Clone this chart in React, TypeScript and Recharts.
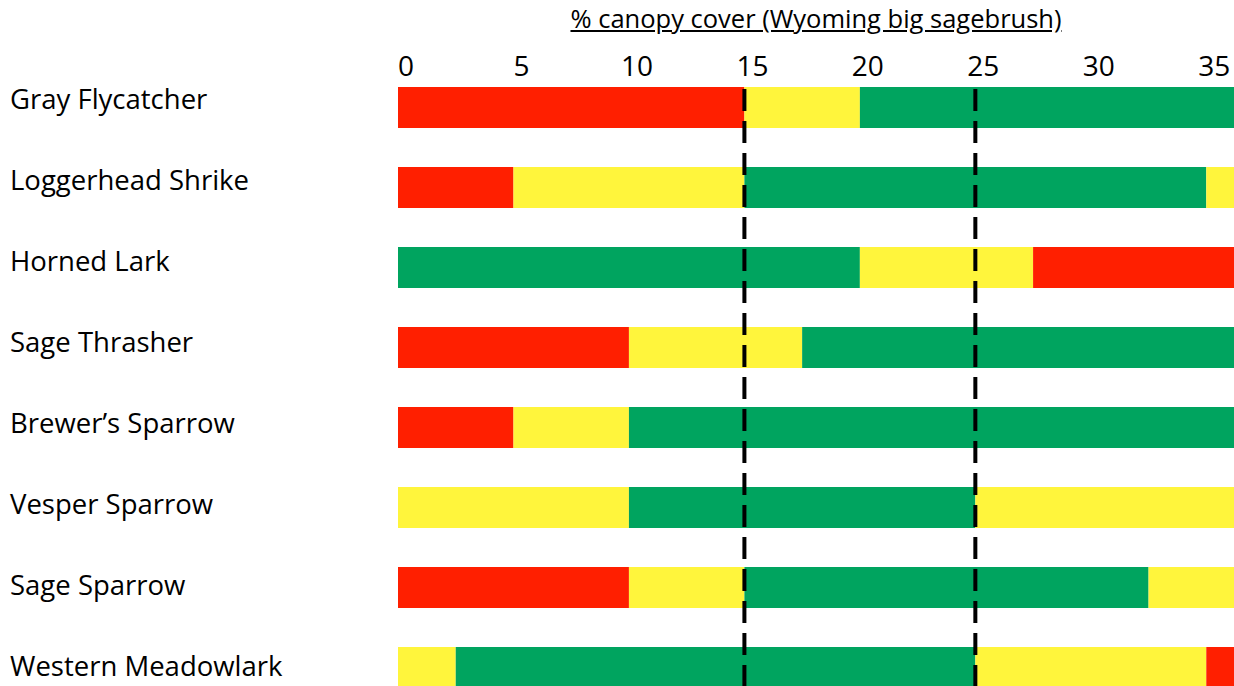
import { Bar, BarChart, Cell, ReferenceLine, XAxis, YAxis } from "recharts";

// species rows, top to bottom
const species = [
    "Gray Flycatcher",
    "Loggerhead Shrike",
    "Horned Lark",
    "Sage Thrasher",
    "Brewer\u2019s Sparrow",
    "Vesper Sparrow",
    "Sage Sparrow",
    "Western Meadowlark",
];

// widths of each consecutive segment (% canopy cover), last one runs off the right edge
const seg1 = [15, 5, 20, 10, 5, 10, 10, 2.5];
const seg2 = [5, 10, 7.5, 7.5, 5, 15, 5, 22.5];
const seg3 = [20, 20, 12.5, 22.5, 30, 15, 17.5, 10];
const seg4 = [0, 5, 0, 0, 0, 0, 7.5, 5];

// R = red, Y = yellow, G = green
const color1 = ["R", "R", "G", "R", "R", "Y", "R", "Y"];
const color2 = ["Y", "Y", "Y", "Y", "Y", "G", "Y", "G"];
const color3 = ["G", "G", "R", "G", "G", "Y", "G", "Y"];
const color4 = ["G", "Y", "G", "G", "G", "G", "Y", "R"];

const xTicks = [0, 5, 10, 15, 20, 25, 30, 35];
const thresholds = [15, 25];

const palette: Record<string, string> = {
    R: "#ff1f00",
    Y: "#fff53c",
    G: "#00a45f",
};

const data = species.map((name, i) => ({
    name,
    s1: seg1[i],
    s2: seg2[i],
    s3: seg3[i],
    s4: seg4[i],
}));

const segments = [
    { key: "s1", colors: color1 },
    { key: "s2", colors: color2 },
    { key: "s3", colors: color3 },
    { key: "s4", colors: color4 },
];

const FONT = "'Open Sans', sans-serif";

// labels drift down ~1px per row in the original
const SpeciesTick = ({ y, payload, index }: any) => (
    <text x={10} y={y} dy={2 + index} fontSize={27.5} fontFamily={FONT} fill="#000">
        {payload.value}
    </text>
);

const CoverTick = ({ x, y, payload }: any) => (
    <text x={x + 8} y={y} dy={17} textAnchor="middle" fontSize={28} fontFamily={FONT} fill="#000">
        {payload.value}
    </text>
);

const DashedLine = (props: any) => (
    <line
        x1={props.x1}
        x2={props.x2}
        y1={props.y1 + 20}
        y2={props.y2}
        stroke="#000"
        strokeWidth={4}
        strokeDasharray="22 10"
        strokeDashoffset={-2}
    />
);

export default function App() {
    return (
        <div style={{ position: "relative", width: 1234, height: 686, overflow: "hidden", background: "#fff" }}>
            <style>{"body{margin:0}"}</style>
            <div
                style={{
                    position: "absolute",
                    left: 516,
                    width: 600,
                    top: 1,
                    textAlign: "center",
                    fontFamily: FONT,
                    fontSize: 25.5,
                    textDecoration: "underline",
                    whiteSpace: "nowrap",
                }}
            >
                % canopy cover (Wyoming big sagebrush)
            </div>
            <BarChart
                width={1234}
                height={720}
                data={data}
                layout="vertical"
                margin={{ top: 0, right: 0, bottom: 13, left: 0 }}
            >
                <XAxis
                    type="number"
                    orientation="top"
                    domain={[0, 36.2]}
                    ticks={xTicks}
                    allowDataOverflow
                    height={67}
                    axisLine={false}
                    tickLine={false}
                    tick={<CoverTick />}
                />
                <YAxis
                    type="category"
                    dataKey="name"
                    width={398}
                    axisLine={false}
                    tickLine={false}
                    tick={<SpeciesTick />}
                />
                {segments.map((s) => (
                    <Bar key={s.key} dataKey={s.key} stackId="a" barSize={41} isAnimationActive={false}>
                        {data.map((d, i) => (
                            <Cell key={d.name} fill={palette[s.colors[i]]} />
                        ))}
                    </Bar>
                ))}
                {thresholds.map((t) => (
                    <ReferenceLine key={t} x={t} shape={<DashedLine />} />
                ))}
            </BarChart>
        </div>
    );
}
